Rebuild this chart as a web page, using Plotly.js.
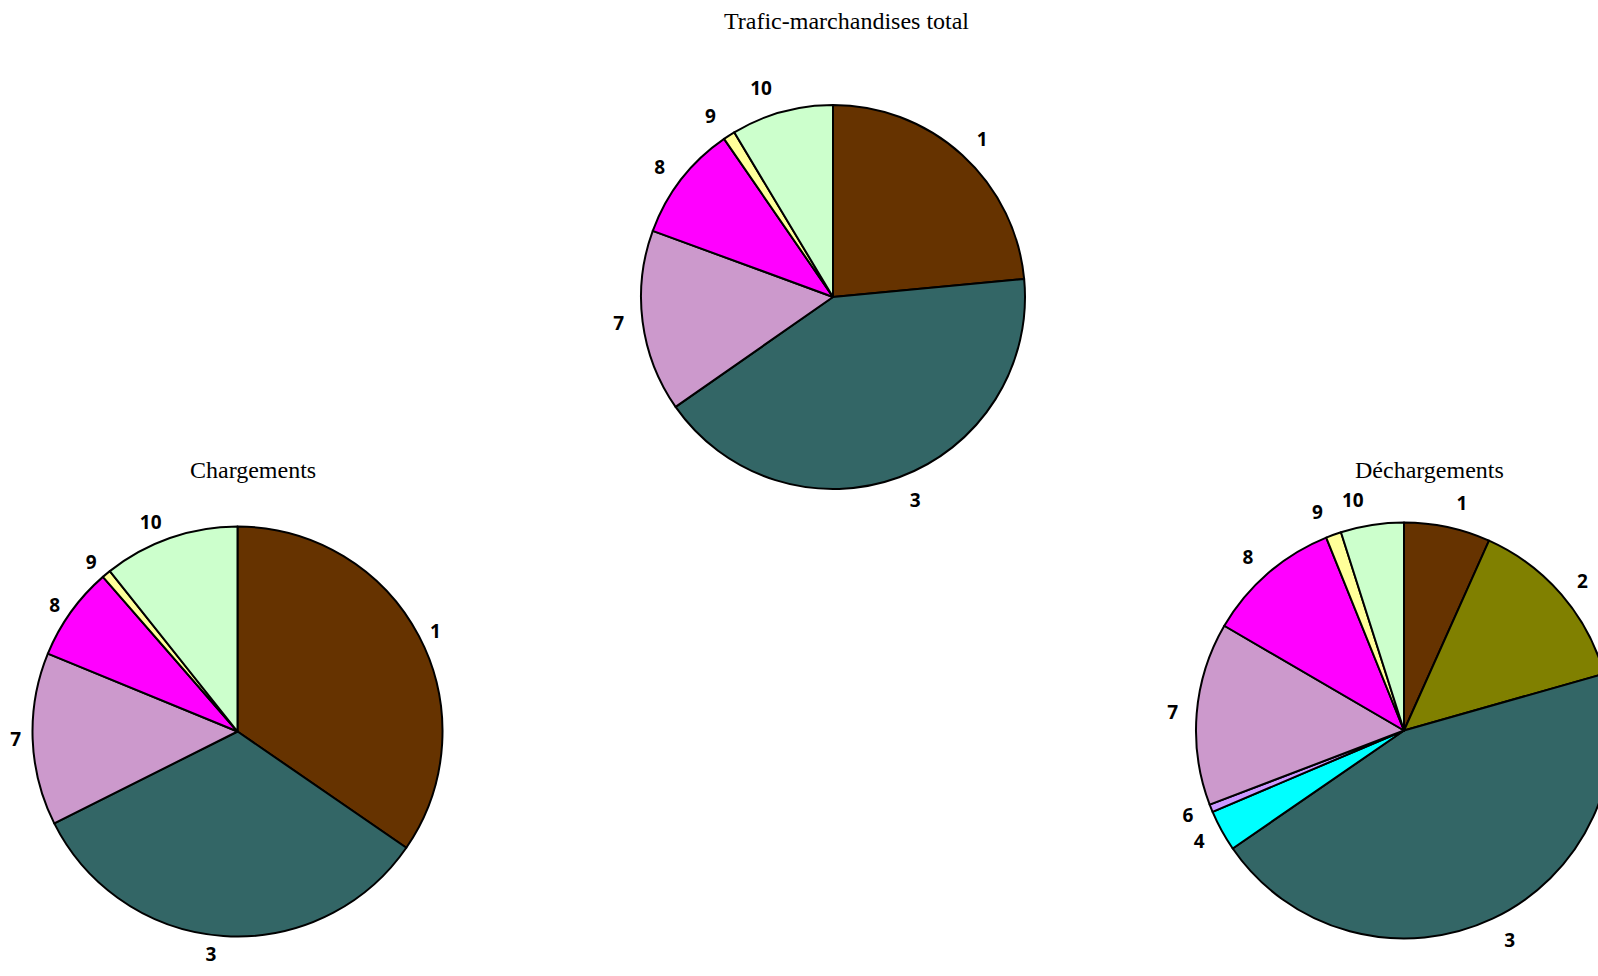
<!DOCTYPE html>
<html>
<head>
<meta charset="utf-8">
<script src="https://cdn.plot.ly/plotly-3.0.1.min.js"></script>
<style>
html,body{margin:0;padding:0;overflow:hidden;background:#fff;}
#chart{width:1650px;height:976px;}
</style>
</head>
<body>
<div id="chart"></div>
<script>
// Category codes and values (percent shares)
const categoriesTotal = ['1','3','7','8','9','10'];
const valuesTotal = [23.5, 41.8, 15.3, 9.8, 1.0, 8.6];

const categoriesCharg = ['1','3','7','8','9','10'];
const valuesCharg = [34.6, 33.0, 13.6, 7.4, 0.7, 10.7];

const categoriesDecharg = ['1','2','3','4','6','7','8','9','10'];
const valuesDecharg = [6.7, 13.9, 44.8, 3.2, 0.6, 14.2, 10.5, 1.2, 4.9];

const titles = ['Trafic-marchandises total', 'Chargements', 'Déchargements'];

const colorMap = {
  '1': '#663300', '2': '#808000', '3': '#336666', '4': '#00FFFF',
  '6': '#CC99FF', '7': '#CC99CC', '8': '#FF00FF', '9': '#FFFF99', '10': '#CCFFCC'
};

const W = 1650, H = 976;

function dom(cx, cy, r) {
  return {
    x: [(cx - r) / W, (cx + r) / W],
    y: [(H - cy - r) / H, (H - cy + r) / H]
  };
}

// One visible pie, plus transparent label rings slightly larger than the pie
// (labels sit a little further out, as in the reference). Labels listed in
// `ownRing` get their own ring so Plotly does not push them away vertically.
function pieTraces(labels, values, cx, cy, r, gap, ownRing) {
  const common = {
    type: 'pie', labels: labels, values: values, sort: false,
    direction: 'clockwise', rotation: 0, showlegend: false, hoverinfo: 'label+percent'
  };
  const traces = [Object.assign({}, common, {
    textinfo: 'none',
    marker: {colors: labels.map(l => colorMap[l]), line: {color: '#000', width: 2}},
    domain: dom(cx, cy, r)
  })];
  const groups = [labels.filter(l => ownRing.indexOf(l) < 0)].concat(ownRing.map(l => [l]));
  groups.forEach(function (grp) {
    traces.push(Object.assign({}, common, {
      textinfo: 'label',
      textposition: labels.map(l => grp.indexOf(l) >= 0 ? 'outside' : 'none'),
      textfont: {family: 'Open Sans, Arial, sans-serif', size: 19, color: '#000', weight: 'bold'},
      marker: {colors: labels.map(() => 'rgba(0,0,0,0)'), line: {width: 0}},
      domain: dom(cx, cy, r + gap)
    }));
  });
  return traces;
}

const data = [].concat(
  pieTraces(categoriesTotal, valuesTotal, 833, 297, 192, 12, ['10']),
  pieTraces(categoriesCharg, valuesCharg, 237.5, 731.5, 205, 5, ['10']),
  pieTraces(categoriesDecharg, valuesDecharg, 1404, 730.5, 208, 12, ['10'])
);

const titleFont = {family: 'Liberation Serif, Times New Roman, serif', size: 24, color: '#000'};
const layout = {
  width: W, height: H,
  margin: {l: 0, r: 0, t: 0, b: 0},
  paper_bgcolor: '#fff',
  plot_bgcolor: '#fff',
  showlegend: false,
  annotations: [
    {text: titles[0], x: 846 / W, y: 1 - 21 / H, xref: 'paper', yref: 'paper', showarrow: false, font: titleFont, xanchor: 'center', yanchor: 'middle'},
    {text: titles[1], x: 253 / W, y: 1 - 470 / H, xref: 'paper', yref: 'paper', showarrow: false, font: titleFont, xanchor: 'center', yanchor: 'middle'},
    {text: titles[2], x: 1429 / W, y: 1 - 470 / H, xref: 'paper', yref: 'paper', showarrow: false, font: titleFont, xanchor: 'center', yanchor: 'middle'}
  ]
};

Plotly.newPlot('chart', data, layout, {displayModeBar: false, staticPlot: true}).then(function (gd) {
  // The reference has no leader lines between labels and slices
  gd.querySelectorAll('path.textline').forEach(function (p) { p.style.display = 'none'; });
});
</script>
</body>
</html>
